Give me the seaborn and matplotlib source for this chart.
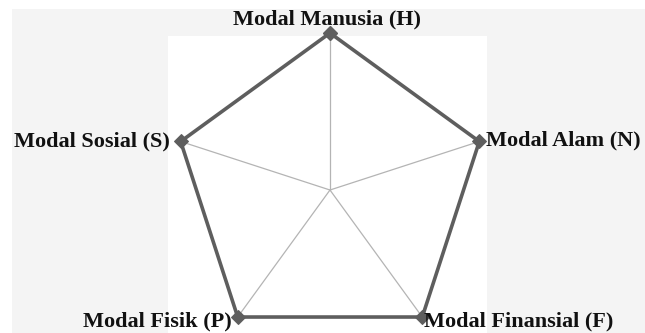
import numpy as np
import pandas as pd
import matplotlib
matplotlib.use("Agg")
import matplotlib.pyplot as plt
import seaborn as sns
from matplotlib.patches import Rectangle

# radar chart of the five livelihood capitals, all at max score
categories = ['Modal Manusia (H)', 'Modal Alam (N)', 'Modal Finansial (F)',
              'Modal Fisik (P)', 'Modal Sosial (S)']
scores = [5, 5, 5, 5, 5]
score_max = 5

sns.set_style('white')
plt.rcParams['font.family'] = ['Liberation Serif', 'DejaVu Serif']

n = len(categories)
theta = np.arange(n) * 2 * np.pi / n
# close the polygon by repeating the first point one full turn later
df = pd.DataFrame({'theta': list(theta) + [theta[0] + 2 * np.pi],
                   'score': scores + [scores[0]]})

fig = plt.figure(figsize=(6.45, 3.33), dpi=100, facecolor='white')
# grey plot area and white inner area, like the original export
fig.patches.append(Rectangle((12 / 645, 0), 1 - 12 / 645, 1 - 9 / 333,
                             transform=fig.transFigure, facecolor='#f4f4f4',
                             edgecolor='none', zorder=-2))
fig.patches.append(Rectangle((168 / 645, 0), (487 - 168) / 645, 1 - 36 / 333,
                             transform=fig.transFigure, facecolor='white',
                             edgecolor='none', zorder=-1))

ax = fig.add_axes([0.2682, -0.0421, 0.4868, 0.943], projection='polar')
ax.set_facecolor('none')
ax.set_theta_offset(np.pi / 2)
ax.set_theta_direction(-1)
ax.set_ylim(0, score_max)
ax.set_xticks(theta)
ax.set_xticklabels([])
ax.set_yticks([])
ax.xaxis.grid(True, color='#b4b4b4', linewidth=0.9)
ax.yaxis.grid(False)
ax.spines['polar'].set_visible(False)

sns.lineplot(data=df, x='theta', y='score', sort=False, estimator=None,
             ax=ax, color='#5e5e5e', linewidth=2.6, marker='D',
             markersize=7, markeredgecolor='#5e5e5e', clip_on=False)
ax.set_xlabel('')
ax.set_ylabel('')

# label placement next to each vertex (offsets in points)
offsets = [(-2, 6, 'center'), (4.5, -3, 'left'), (1.5, -7, 'left'),
           (-4, -7, 'right'), (-8, -3.5, 'right')]
for cat, t, (dx, dy, ha) in zip(categories, theta, offsets):
    ax.annotate(cat, xy=(t, score_max), xytext=(dx, dy),
                textcoords='offset points', ha=ha, va='baseline',
                fontsize=16, fontweight='bold', color='#111111',
                annotation_clip=False)

fig.savefig('out.png', dpi=100, facecolor='white')
